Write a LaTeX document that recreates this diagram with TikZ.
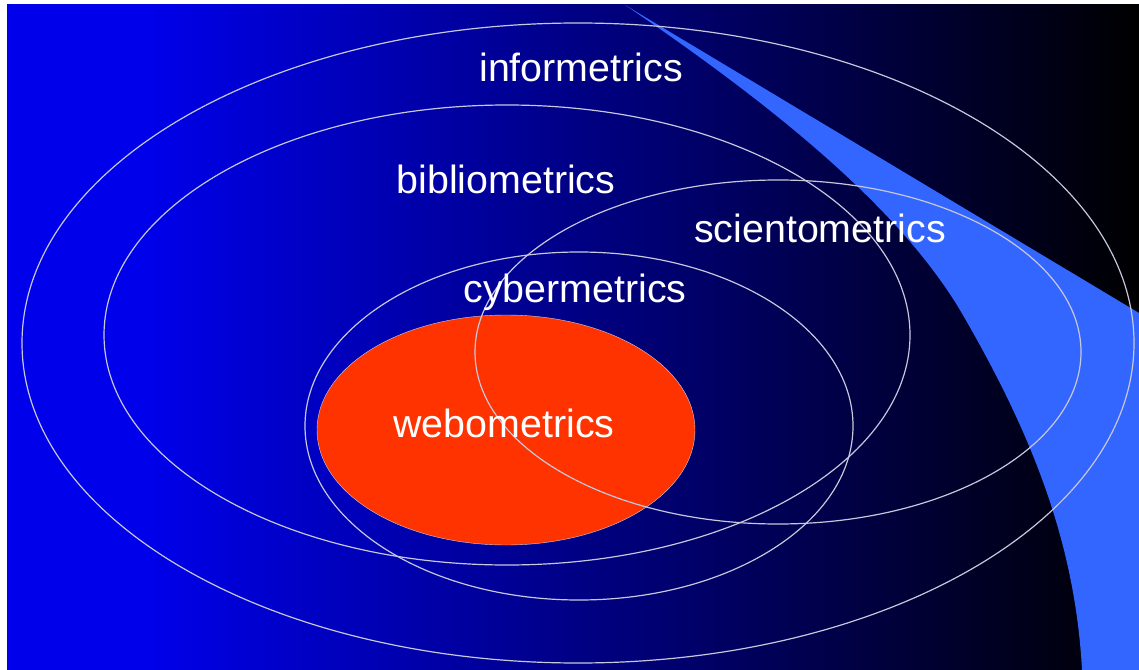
\documentclass[tikz,border=0pt]{standalone}
\usepackage{fontspec}
\setmainfont{Liberation Sans}
\usetikzlibrary{positioning}

\definecolor{bgblue}{RGB}{0,0,235}
\definecolor{swoosh}{RGB}{51,102,255}
\definecolor{webred}{RGB}{255,51,0}
\definecolor{ringline}{RGB}{200,200,220}

\pgfdeclarehorizontalshading{bgfade}{100bp}{color(0bp)=(bgblue); color(25bp)=(bgblue); color(31bp)=(bgblue); color(75bp)=(black); color(100bp)=(black)}

\begin{document}
\begin{tikzpicture}[
        x=0.025cm, y=-0.025cm,
        ring/.style={draw=ringline, line width=0.85pt},
        field/.style={text=white, inner sep=0pt, anchor=base, font=\fontsize{28}{34}\selectfont}
    ]
        \useasboundingbox (0,0) rectangle (1139,670);

        % Background
        \shade[shading=bgfade] (7,5) rectangle (1139,670);

        \begin{scope}
        \clip (7,5) rectangle (1139,670);
        % Swoosh
        \fill[swoosh] (625,5) -- (1139,313) -- (1139,670) -- (1082,670)
            .. controls (1075,540) and (1030,430) .. (960,310)
            .. controls (900,210) and (780,110) .. (625,5) -- cycle;

        % Webometrics (filled)
        \fill[webred] (506,430) ellipse [x radius=189, y radius=115];
        \draw[draw=ringline, line width=0.3pt] (506,430) ellipse [x radius=189, y radius=115];

        % Rings
        \draw[ring] (578,343) ellipse [x radius=556, y radius=320];
        \draw[ring] (507,335) ellipse [x radius=403, y radius=230];
        \draw[ring] (778,352) ellipse [x radius=303, y radius=172];
        \draw[ring] (579,426) ellipse [x radius=274, y radius=174];
        \end{scope}

        % Labels
        \node[field] (infor) at (581,82) {informetrics};
        \node[field] (biblio) at (506,193) {bibliometrics};
        \node[field] (sciento) at (820,242) {scientometrics};
        \node[field] (cyber) at (575,302) {cybermetrics};
        \node[field] (webo) at (504,437) {webometrics};
\end{tikzpicture}
\end{document}
